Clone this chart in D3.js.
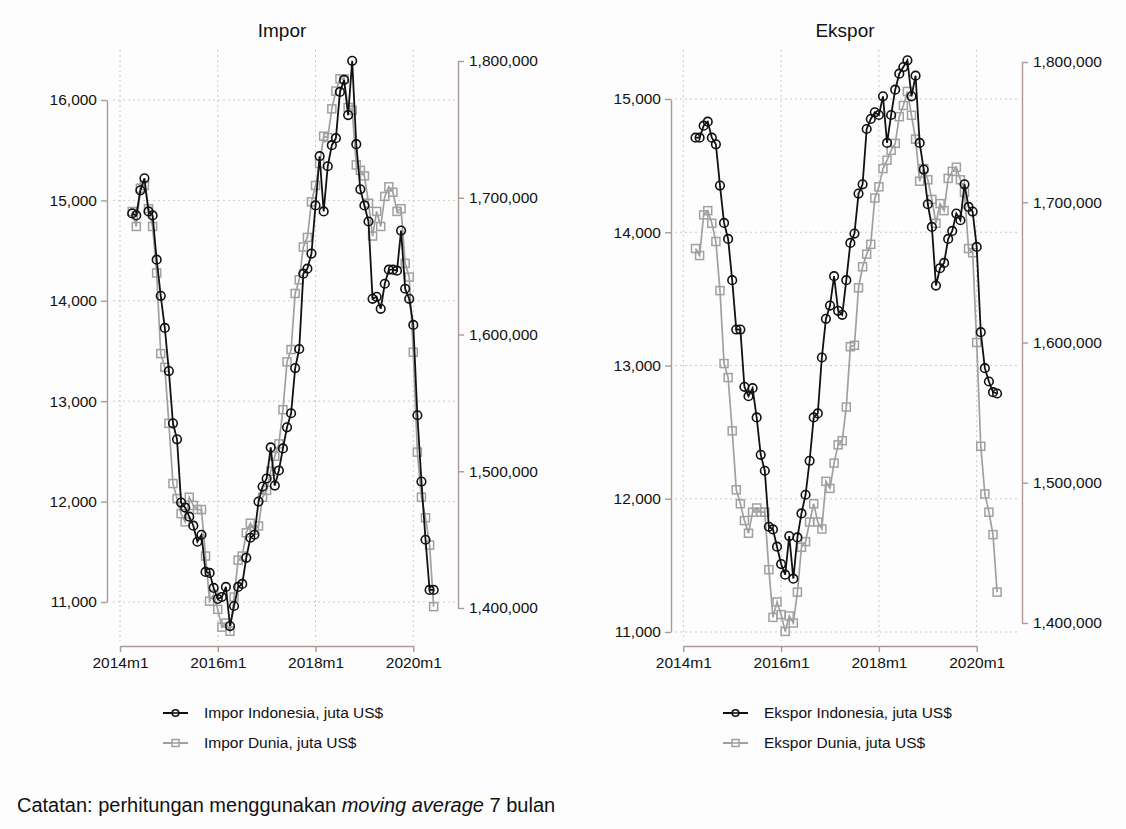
<!DOCTYPE html>
<html>
<head>
<meta charset="utf-8">
<script src="https://cdn.jsdelivr.net/npm/d3@7"></script>
<style>
  body { margin: 0; background: #fdfdfd; }
  text { font-family: "Liberation Sans", Arial, Helvetica, sans-serif; fill: #111; }
</style>
</head>
<body>
<svg id="chart" width="1126" height="829"></svg>
<script>
// Monthly series, 7-month moving average, starting 2014m4 (month index 3 from 2014m1)
const firstMonth = 3;

const tickMonths = [0, 24, 48, 72];
const tickLabels = ["2014m1", "2016m1", "2018m1", "2020m1"];

const imporLeftTicks = [11000, 12000, 13000, 14000, 15000, 16000];
const eksporLeftTicks = [11000, 12000, 13000, 14000, 15000];
const worldTicks = [1400000, 1500000, 1600000, 1700000, 1800000];

// Impor Indonesia, juta US$
const imporIndonesia = [
  14870, 14850, 15100, 15220, 14890, 14850, 14410, 14050, 13730, 13300,
  12780, 12620, 11990, 11940, 11850, 11760, 11600, 11670, 11300, 11290,
  11140, 11030, 11050, 11150, 10760, 10960, 11150, 11180, 11440, 11640,
  11670, 12000, 12150, 12230, 12540, 12160, 12310, 12530, 12740, 12880,
  13330, 13520, 14270, 14320, 14470, 14950, 15440, 14890, 15340, 15550,
  15620, 16080, 16200, 15850, 16390, 15560, 15110, 14950, 14790, 14020,
  14040, 13920, 14170, 14310, 14310, 14300, 14700, 14120, 14020, 13760,
  12860, 12200, 11620, 11120, 11120
];

// Impor Dunia, juta US$
const imporDunia = [
  1690000, 1679000, 1707000, 1709000, 1692000, 1679000, 1645000, 1586000, 1576000, 1535000,
  1491000, 1480000, 1469000, 1463000, 1481000, 1475000, 1472000, 1472000, 1438000, 1405000,
  1410000, 1399000, 1386000, 1389000, 1383000, 1408000, 1435000, 1438000, 1455000, 1462000,
  1457000, 1460000, 1481000, 1486000, 1500000, 1511000, 1520000, 1545000, 1580000, 1589000,
  1630000, 1640000, 1664000, 1671000, 1697000, 1709000, 1725000, 1745000, 1744000, 1765000,
  1778000, 1787000, 1787000, 1766000, 1764000, 1724000, 1720000, 1716000, 1696000, 1672000,
  1690000, 1679000, 1701000, 1708000, 1704000, 1690000, 1692000, 1652000, 1642000, 1587000,
  1514000, 1481000, 1466000, 1446000, 1401000
];

// Ekspor Indonesia, juta US$
const eksporIndonesia = [
  14710, 14710, 14800, 14830, 14710, 14660, 14350, 14070, 13950, 13640,
  13270, 13270, 12840, 12770, 12830, 12610, 12330, 12210, 11790, 11770,
  11640, 11510, 11430, 11720, 11400, 11710, 11890, 12030, 12285, 12610,
  12640, 13060, 13350, 13450, 13670, 13410, 13380, 13640, 13920, 13990,
  14290, 14360, 14775, 14850, 14900, 14880, 15020, 14670, 14880, 15070,
  15190, 15240, 15290, 15020, 15175, 14670, 14470, 14210, 14040, 13600,
  13730, 13770, 13950, 14010, 14140, 14090, 14360, 14190, 14155, 13890,
  13250, 12980, 12880, 12800, 12790
];

// Ekspor Dunia, juta US$
const eksporDunia = [
  1667000, 1662000, 1691000, 1694000, 1685000, 1672000, 1637000, 1585000, 1575000, 1537000,
  1495000, 1485000, 1473000, 1464000, 1479000, 1482000, 1479000, 1479000, 1438000, 1404000,
  1415000, 1406000, 1394000, 1405000, 1400000, 1422000, 1454000, 1458000, 1472000, 1485000,
  1472000, 1467000, 1501000, 1496000, 1514000, 1527000, 1530000, 1554000, 1597000, 1598000,
  1639000, 1654000, 1663000, 1670000, 1703000, 1711000, 1724000, 1730000, 1737000, 1742000,
  1761000, 1769000, 1779000, 1762000, 1745000, 1715000, 1724000, 1716000, 1702000, 1685000,
  1699000, 1694000, 1717000, 1722000, 1725000, 1716000, 1707000, 1667000, 1664000, 1600000,
  1526000, 1492000, 1479000, 1463000, 1422000
];

const svg = d3.select("#chart");
const AXIS_COLOR = "#a99a94";
const BLACK = "#111111";
const GREY = "#a0a0a0";
const FONT = 15.5;

function drawPanel(cfg) {
  const g = svg.append("g");
  const x = d3.scaleLinear().domain([0, 72]).range([cfg.x0, cfg.x1]);
  const yL = d3.scaleLinear().domain(cfg.leftDomain).range(cfg.leftRange);
  const yR = d3.scaleLinear().domain([1400000, 1800000]).range(cfg.rightRange);

  // dotted grid
  const grid = g.append("g")
    .attr("stroke", "#cacaca").attr("stroke-width", 1).attr("stroke-dasharray", "2,3");
  grid.selectAll("line.v").data(tickMonths).join("line").attr("class", "v")
    .attr("x1", d => x(d)).attr("x2", d => x(d))
    .attr("y1", cfg.gridTop).attr("y2", cfg.gridBottom);
  grid.selectAll("line.h").data(cfg.leftTicks).join("line").attr("class", "h")
    .attr("x1", cfg.gridLeft).attr("x2", cfg.gridRight)
    .attr("y1", d => yL(d)).attr("y2", d => yL(d));

  // axes
  const fmt = d3.format(",");
  const styleAxis = sel => {
    sel.selectAll("path.domain").attr("stroke", AXIS_COLOR).attr("stroke-width", 1.4);
    sel.selectAll(".tick line").attr("stroke", AXIS_COLOR).attr("stroke-width", 1.4);
    sel.selectAll(".tick text").attr("font-size", FONT).attr("fill", "#111")
      .attr("font-family", "'Liberation Sans', Arial, sans-serif");
  };
  g.append("g").attr("transform", `translate(${cfg.leftAxisX},0)`)
    .call(d3.axisLeft(yL).tickValues(cfg.leftTicks).tickFormat(fmt)
      .tickSize(6).tickSizeOuter(0).tickPadding(4))
    .call(styleAxis);
  g.append("g").attr("transform", `translate(${cfg.rightAxisX},0)`)
    .call(d3.axisRight(yR).tickValues(worldTicks).tickFormat(fmt)
      .tickSize(6).tickSizeOuter(0).tickPadding(5))
    .call(styleAxis);
  g.append("g").attr("transform", `translate(0,${cfg.axisY})`)
    .call(d3.axisBottom(x).tickValues(tickMonths)
      .tickFormat(d => tickLabels[tickMonths.indexOf(d)])
      .tickSize(6).tickSizeOuter(0).tickPadding(5))
    .call(styleAxis);

  // title
  g.append("text").attr("x", cfg.titleX).attr("y", 37)
    .attr("text-anchor", "middle").attr("font-size", 19).text(cfg.title);

  const idn = cfg.local.map((v, i) => ({ m: firstMonth + i, v }));
  const world = cfg.world.map((v, i) => ({ m: firstMonth + i, v }));

  // world series (right axis): grey line with hollow squares
  g.append("path").datum(world)
    .attr("fill", "none").attr("stroke", GREY).attr("stroke-width", 1.7)
    .attr("d", d3.line().x(d => x(d.m)).y(d => yR(d.v)));
  g.append("g").selectAll("rect").data(world).join("rect")
    .attr("x", d => x(d.m) - 4).attr("y", d => yR(d.v) - 4)
    .attr("width", 8).attr("height", 8)
    .attr("fill", "none").attr("stroke", GREY).attr("stroke-width", 1.5);

  // Indonesia series (left axis): black line with hollow circles
  g.append("path").datum(idn)
    .attr("fill", "none").attr("stroke", BLACK).attr("stroke-width", 1.8)
    .attr("d", d3.line().x(d => x(d.m)).y(d => yL(d.v)));
  g.append("g").selectAll("circle").data(idn).join("circle")
    .attr("cx", d => x(d.m)).attr("cy", d => yL(d.v)).attr("r", 4.3)
    .attr("fill", "none").attr("stroke", BLACK).attr("stroke-width", 1.6);

  // legend
  const lg = g.append("g");
  const rows = [
    { label: cfg.legend[0], color: BLACK, shape: "circle", y: 713 },
    { label: cfg.legend[1], color: GREY, shape: "square", y: 743 }
  ];
  rows.forEach(r => {
    lg.append("line").attr("x1", cfg.legendX).attr("x2", cfg.legendX + 25)
      .attr("y1", r.y).attr("y2", r.y)
      .attr("stroke", r.color).attr("stroke-width", 2);
    const cx = cfg.legendX + 12.5;
    if (r.shape === "circle") {
      lg.append("circle").attr("cx", cx).attr("cy", r.y).attr("r", 3.3)
        .attr("fill", "#fdfdfd").attr("stroke", r.color).attr("stroke-width", 1.6);
      lg.append("line").attr("x1", cx - 3.3).attr("x2", cx + 3.3)
        .attr("y1", r.y).attr("y2", r.y).attr("stroke", r.color).attr("stroke-width", 1.6);
    } else {
      lg.append("rect").attr("x", cx - 3.5).attr("y", r.y - 3.5)
        .attr("width", 7).attr("height", 7)
        .attr("fill", "#fdfdfd").attr("stroke", r.color).attr("stroke-width", 1.5);
      lg.append("line").attr("x1", cx - 3.5).attr("x2", cx + 3.5)
        .attr("y1", r.y).attr("y2", r.y).attr("stroke", r.color).attr("stroke-width", 1.5);
    }
    lg.append("text").attr("x", cfg.legendX + 41).attr("y", r.y + 5.4)
      .attr("font-size", FONT).text(r.label);
  });
}

drawPanel({
  title: "Impor", titleX: 282,
  x0: 120, x1: 413.3, axisY: 646,
  leftAxisX: 107, rightAxisX: 458,
  leftDomain: [11000, 16000], leftRange: [602, 100], leftTicks: imporLeftTicks,
  rightRange: [608, 61],
  gridTop: 50, gridBottom: 641, gridLeft: 113, gridRight: 455,
  local: imporIndonesia, world: imporDunia,
  legend: ["Impor Indonesia, juta US$", "Impor Dunia, juta US$"],
  legendX: 163
});

drawPanel({
  title: "Ekspor", titleX: 845,
  x0: 683.3, x1: 976.7, axisY: 646,
  leftAxisX: 671, rightAxisX: 1022,
  leftDomain: [11000, 15000], leftRange: [632, 99], leftTicks: eksporLeftTicks,
  rightRange: [623, 62],
  gridTop: 50, gridBottom: 641, gridLeft: 675, gridRight: 1018,
  local: eksporIndonesia, world: eksporDunia,
  legend: ["Ekspor Indonesia, juta US$", "Ekspor Dunia, juta US$"],
  legendX: 723
});

// note under the panels
const note = svg.append("text").attr("x", 17).attr("y", 812).attr("font-size", 20);
note.append("tspan").text("Catatan: perhitungan menggunakan ");
note.append("tspan").attr("font-style", "italic").text("moving average");
note.append("tspan").text(" 7 bulan");
</script>
</body>
</html>
